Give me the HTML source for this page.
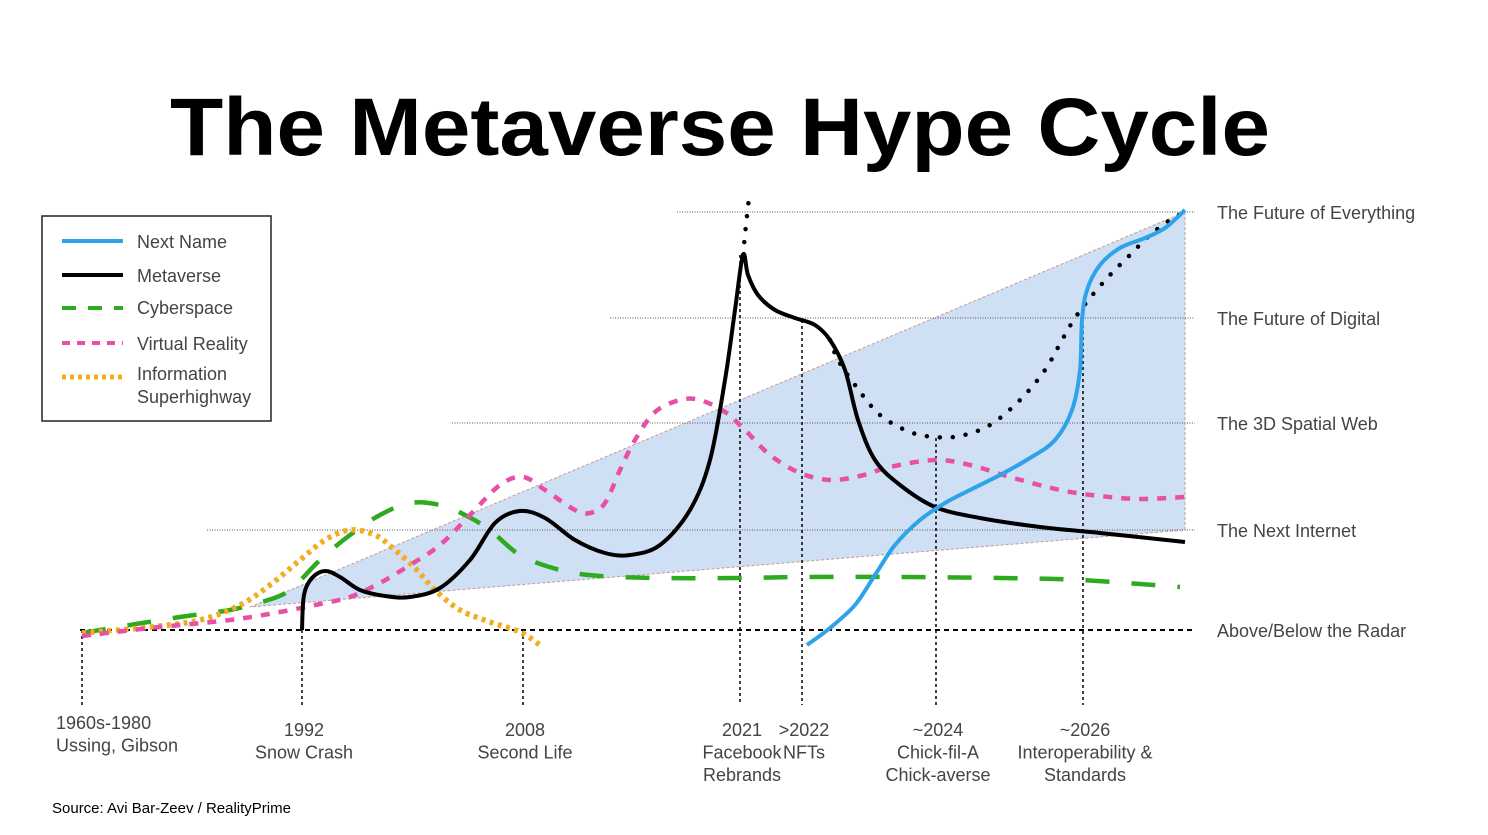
<!DOCTYPE html>
<html><head><meta charset="utf-8"><style>
html,body{margin:0;padding:0;background:#fff;}
svg{display:block;font-family:"Liberation Sans",Arial,sans-serif;}
</style></head><body>
<svg id="chart" width="1488" height="835" viewBox="0 0 1488 835" xmlns="http://www.w3.org/2000/svg">
<rect width="1488" height="835" fill="#fff"/>
<text x="170" y="155" font-size="82" font-weight="bold" textLength="1100" lengthAdjust="spacingAndGlyphs" fill="#000">The Metaverse Hype Cycle</text>
<g id="plot"></g>
<g>
<rect x="42" y="216" width="229" height="205" fill="#fff" stroke="#222" stroke-width="1.5"/>
<line x1="62" y1="241" x2="123" y2="241" stroke="#2ea3ea" stroke-width="4"/>
<text x="137" y="248" font-size="18" fill="#444">Next Name</text>
<line x1="62" y1="275" x2="123" y2="275" stroke="#000" stroke-width="4"/>
<text x="137" y="282" font-size="18" fill="#444">Metaverse</text>
<line x1="62" y1="308" x2="123" y2="308" stroke="#2eaa1f" stroke-width="4" stroke-dasharray="14,12"/>
<text x="137" y="314" font-size="18" fill="#444">Cyberspace</text>
<line x1="62" y1="343" x2="123" y2="343" stroke="#e84fa6" stroke-width="4" stroke-dasharray="8,7"/>
<text x="137" y="350" font-size="18" fill="#444">Virtual Reality</text>
<line x1="62" y1="377" x2="123" y2="377" stroke="#f2ac1e" stroke-width="5" stroke-dasharray="4,4"/>
<text x="137" y="380" font-size="18" fill="#444">Information</text>
<text x="137" y="403" font-size="18" fill="#444">Superhighway</text>
</g>
<text x="52" y="813" font-size="15" fill="#000">Source: Avi Bar-Zeev / RealityPrime</text>
</svg>
<script>
// x: offset from origin (px-equivalent time units), y: hype level above radar baseline
const levelNames = ["Above/Below the Radar","The Next Internet","The 3D Spatial Web","The Future of Digital","The Future of Everything"];
const levelValues = [0, 100, 207, 312, 418];
const levelStarts = [0, 125, 370, 528, 595];
const milestoneX = [0, 220, 441, 658, 720, 854, 1001];
const milestoneLines1 = ["1960s-1980","1992","2008","2021",">2022","~2024","~2026"];
const milestoneLines2 = ["Ussing, Gibson","Snow Crash","Second Life","Facebook","NFTs","Chick-fil-A","Interoperability &"];
const milestoneLines3 = ["","","","Rebrands","","Chick-averse","Standards"];
const milestoneTop = [0, 0, 0, 375, 310, 192, 305];
const metaverseX = [220,222,230,243,258,278,303,328,358,388,413,438,463,493,523,548,578,608,628,643,653,661,666,676,693,713,733,748,763,776,793,818,853,898,958,1018,1103];
const metaverseY = [0,35,52,59,53,40,34,33,42,70,107,119,112,90,77,75,85,120,170,250,320,375,355,335,320,312,305,290,260,210,170,145,123,112,103,97,88];
const metaverseFutureX = [661,664,667];
const metaverseFutureY = [375,405,432];
const metaverseAltX = [748,756,773,798,828,853,878,908,938,963,980,993,1008,1028,1048,1068,1088,1103];
const metaverseAltY = [290,270,245,215,198,193,194,205,230,260,290,312,332,355,375,395,410,418];
const nextNameX = [725,748,773,793,813,838,863,888,918,948,973,990,998,1000,1005,1018,1038,1063,1083,1103];
const nextNameY = [-15,2,25,55,85,110,127,140,155,172,190,220,260,310,340,365,382,392,402,420];
const cyberX = [0,48,98,148,183,208,238,268,298,328,358,383,408,438,478,518,578,658,718,818,918,998,1098];
const cyberY = [-3,5,13,20,29,40,70,95,115,127,125,115,100,75,60,54,52,52,53,53,52,50,43];
const vrX = [0,68,148,198,238,268,298,328,358,388,418,441,463,493,508,523,538,553,573,598,618,643,663,688,718,748,778,808,853,888,928,978,1018,1058,1103];
const vrY = [-6,2,10,18,26,33,47,65,85,115,145,153,140,120,117,127,160,190,218,230,230,218,200,175,157,150,154,163,170,165,153,140,134,131,133];
const infoX = [0,68,118,158,188,218,243,268,293,313,333,353,378,408,438,458];
const infoY = [-3,3,10,25,45,70,90,100,95,80,62,40,20,8,-2,-15];
const bandStartX = 168, bandStartY = 23, bandEndX = 1103, bandLowEndY = 100, bandHighEndY = 418;

const X0=82, Y0=630;
function xs(v){return X0+v;}
function ys(v){return Y0-v;}
const NS="http://www.w3.org/2000/svg";
const plot=document.getElementById('plot');
function el(tag,attrs,parent){const e=document.createElementNS(NS,tag);for(const k in attrs)e.setAttribute(k,attrs[k]);(parent||plot).appendChild(e);return e;}
function smoothPath(xa,ya){
  const p=xa.map((x,i)=>[xs(x),ys(ya[i])]);
  let d="M"+p[0][0]+","+p[0][1];
  for(let i=0;i<p.length-1;i++){
    const p0=p[i-1]||p[i],p1=p[i],p2=p[i+1],p3=p[i+2]||p2;
    const c1=[p1[0]+(p2[0]-p0[0])/6,p1[1]+(p2[1]-p0[1])/6];
    const c2=[p2[0]-(p3[0]-p1[0])/6,p2[1]-(p3[1]-p1[1])/6];
    d+=" C"+c1[0].toFixed(1)+","+c1[1].toFixed(1)+" "+c2[0].toFixed(1)+","+c2[1].toFixed(1)+" "+p2[0].toFixed(1)+","+p2[1].toFixed(1);
  }
  return d;
}
// shaded band
const band=el('polygon',{points:`${xs(bandStartX)},${ys(bandStartY)} ${xs(bandEndX)},${ys(bandHighEndY)} ${xs(bandEndX)},${ys(bandLowEndY)}`,fill:'#cfdff4',stroke:'#c79a9a','stroke-width':1,'stroke-dasharray':'3,2'});


// level gridlines & labels
levelValues.forEach((v,i)=>{
  if(i>0){
    const l=el('line',{x1:xs(levelStarts[i]),x2:1195,y1:ys(v),y2:ys(v),stroke:'#555','stroke-width':1,'stroke-dasharray':'1,1.5'});
    
    
  }
  const t=el('text',{x:1217,y:ys(v)+7,'font-size':18,fill:'#444'});
  t.textContent=levelNames[i];
  
  
});
// milestone vertical lines & labels
milestoneX.forEach((m,i)=>{
  const l=el('line',{x1:xs(m),x2:xs(m),y1:ys(milestoneTop[i]),y2:705,stroke:'#000','stroke-width':1.5,'stroke-dasharray':'3,3'});
  
  
  const anchor=i===0?'start':'middle';
  const tx=i===0?56:xs(m)+2;
  const lines=[milestoneLines1[i],milestoneLines2[i],milestoneLines3[i]];
  const top=i===0?729:736;
  lines.forEach((s,j)=>{ if(!s)return;
    const t=el('text',{x:tx,y:top+j*22.5,'font-size':18,fill:'#444','text-anchor':anchor});
    t.textContent=s;
    
    
  });
});
// radar baseline
const base=el('line',{x1:80,x2:1192,y1:ys(0),y2:ys(0),stroke:'#000','stroke-width':2,'stroke-dasharray':'5,4'});


// series
function series(name,xa,ya,style){
  const p=el('path',Object.assign({d:smoothPath(xa,ya),fill:'none','stroke-linecap':'butt'},style));
  
  
}
series('cyberspace-line',cyberX,cyberY,{stroke:'#2eaa1f','stroke-width':4.5,'stroke-dasharray':'24,22'});
series('information-superhighway-line',infoX,infoY,{stroke:'#f2ac1e','stroke-width':5.5,'stroke-dasharray':'4,4.5'});
series('virtual-reality-line',vrX,vrY,{stroke:'#e84fa6','stroke-width':4.5,'stroke-dasharray':'9,9'});
series('metaverse-line',metaverseX,metaverseY,{stroke:'#000','stroke-width':4});
series('metaverse-future-dots',metaverseFutureX,metaverseFutureY,{stroke:'#000','stroke-width':4.5,'stroke-dasharray':'0,13','stroke-linecap':'round'});
series('metaverse-alt-dots',metaverseAltX,metaverseAltY,{stroke:'#000','stroke-width':4.5,'stroke-dasharray':'0,13','stroke-linecap':'round'});
series('next-name-line',nextNameX,nextNameY,{stroke:'#2ea3ea','stroke-width':4});
</script>
</body></html>
